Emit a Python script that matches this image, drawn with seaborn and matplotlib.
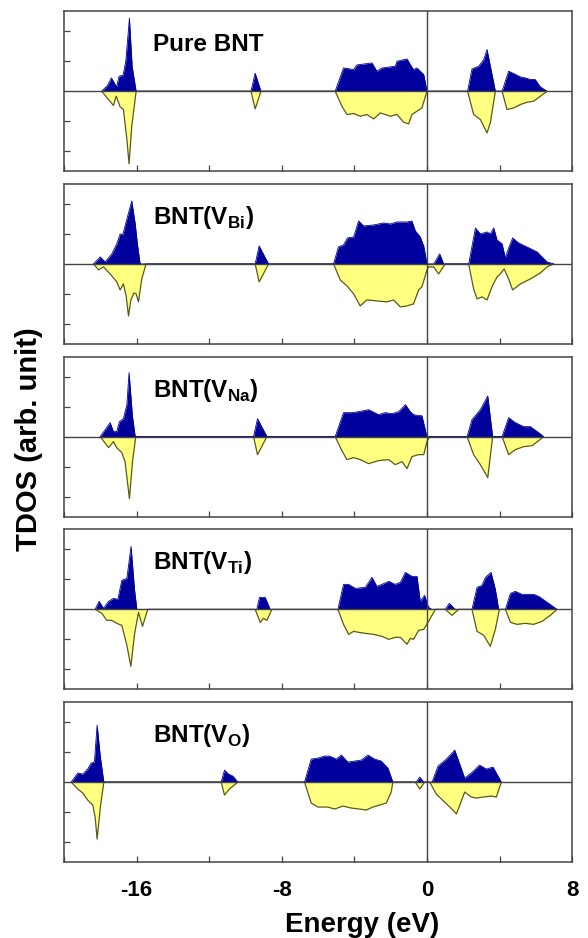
import matplotlib
matplotlib.use('Agg')
import matplotlib.pyplot as plt
import seaborn as sns
import numpy as np
from matplotlib.ticker import MultipleLocator

sns.set_theme(style='ticks')
plt.rcParams['font.family'] = ['Liberation Sans', 'DejaVu Sans']
plt.rcParams['mathtext.fontset'] = 'custom'
plt.rcParams['mathtext.rm'] = 'Liberation Sans'
plt.rcParams['mathtext.bf'] = 'Liberation Sans:bold'
plt.rcParams['text.color'] = 'black'
plt.rcParams['xtick.labelcolor'] = 'black'

labels = ['Pure BNT', r'BNT(V$_{\mathbf{Bi}}$)', r'BNT(V$_{\mathbf{Na}}$)',
          r'BNT(V$_{\mathbf{Ti}}$)', r'BNT(V$_{\mathbf{O}}$)']

# ---- Pure BNT ----
pure_e_up = [-17.93, -17.6, -17.39, -17.11, -16.97, -16.75, -16.6, -16.4, -16.25, -16.03,
             -9.7, -9.47, -9.15,
             -5.06, -4.6, -4.04, -3.86, -3.03, -2.76, -2.48, -1.75, -1.65, -1.1, -0.92,
             -0.74, -0.55, -0.37, -0.18, 0.0,
             2.24, 2.48, 2.85, 3.13, 3.31, 3.77,
             4.14, 4.5, 4.78, 5.15, 5.42, 5.7, 5.97, 6.25, 6.62]
pure_up = [0, 0.6, 1.33, 0.43, 1.5, 1.6, 3.0, 7.3, 2.5, 0,
           0, 1.8, 0,
           0, 2.33, 2.17, 2.63, 2.83, 2.0, 2.33, 2.5, 3.0, 3.23, 2.67,
           2.17, 2.33, 2.0, 1.67, 0,
           0, 2.23, 2.5, 3.17, 4.17, 0,
           0, 2.0, 1.77, 1.43, 1.33, 1.17, 1.17, 0.43, 0]
pure_e_dn = [-17.93, -17.55, -17.28, -17.13, -16.91, -16.73, -16.54, -16.42, -16.27, -16.03,
             -9.7, -9.47, -9.15,
             -5.06, -4.69, -4.41, -4.04, -3.68, -3.31, -2.94, -2.57, -2.02, -1.65, -1.29,
             -1.01, -0.83, -0.55, -0.28, 0.0,
             2.24, 2.57, 2.94, 3.31, 3.49, 3.77,
             4.14, 4.41, 4.78, 5.15, 5.51, 5.88, 6.25, 6.62]
pure_dn = [0, -0.83, -1.43, -0.5, -1.57, -1.83, -4.8, -7.27, -3.5, 0,
           0, -1.77, 0,
           0, -1.5, -2.33, -2.23, -2.5, -2.33, -2.77, -2.17, -2.5, -2.33, -3.1,
           -3.27, -2.33, -2.0, -1.67, 0,
           0, -2.33, -2.83, -4.17, -3.17, 0,
           0, -1.83, -1.67, -1.33, -1.1, -1.0, -0.5, 0]

# ---- BNT(V_Bi) ----
vbi_e_up = [-18.38, -18.01, -17.74, -17.37, -17.1, -16.91, -16.77, -16.54, -16.27, -16.08,
            -15.96, -15.81,
            -9.47, -9.25, -8.73,
            -5.15, -4.88, -4.6, -4.38, -4.04, -3.77, -3.49, -2.94, -2.39, -2.02, -1.65,
            -1.1, -0.83, -0.64, -0.37, -0.18, 0.0,
            0.37, 0.7, 0.92,
            2.3, 2.67, 2.94, 3.31, 3.49, 3.68, 3.86, 4.14, 4.32, 4.5, 4.72, 5.05, 5.51,
            6.07, 6.62, 6.99]
vbi_up = [0, 0.7, 0.2, 1.0, 2.0, 3.0, 2.9, 4.5, 6.3, 4.0,
          2.0, 0,
          0, 1.8, 0,
          0, 1.7, 1.9, 2.6, 2.7, 4.3, 3.8, 3.9, 4.1, 4.0, 4.2,
          4.2, 4.3, 3.3, 2.7, 1.8, 0,
          0, 1.0, 0,
          0, 3.6, 3.0, 3.2, 3.0, 3.6, 2.4, 2.0, 0.6, 1.6, 2.6, 2.1, 1.7,
          1.2, 0.2, 0]
vbi_e_dn = [-18.38, -18.1, -17.83, -17.46, -17.1, -16.91, -16.73, -16.58, -16.45, -16.32,
            -16.14, -16.03, -15.9, -15.72, -15.48,
            -9.47, -9.25, -8.73,
            -5.15, -4.78, -4.41, -4.04, -3.68, -3.31, -2.76, -2.21, -1.84, -1.47, -1.1,
            -0.74, -0.46, -0.28, 0.0, 0.09, 0.37, 0.64, 1.01,
            2.3, 2.57, 2.76, 3.04, 3.31, 3.58, 3.86, 4.04, 4.25, 4.5, 4.72, 5.15, 5.7,
            6.25, 6.62, 6.99]
vbi_dn = [0, -0.6, -0.3, -1.0, -1.8, -2.6, -2.0, -3.2, -5.2, -3.6,
          -2.9, -3.0, -3.8, -1.5, 0,
          0, -1.8, 0,
          0, -1.6, -2.2, -3.0, -4.2, -3.6, -3.7, -3.8, -3.6, -4.3, -4.2,
          -4.0, -2.6, -2.3, -0.6, -0.3, -0.3, -1.0, 0,
          0, -2.5, -3.5, -3.3, -3.6, -2.3, -1.3, -1.0, -0.5, -1.5, -2.6, -2.0, -1.5,
          -0.9, -0.3, 0]

# ---- BNT(V_Na) ----
vna_e_up = [-18.01, -17.46, -17.28, -17.1, -16.95, -16.73, -16.54, -16.42, -16.23, -16.08,
            -9.56, -9.34, -8.82,
            -5.06, -4.6, -4.14, -3.77, -3.22, -2.67, -2.3, -1.93, -1.56, -1.19, -0.92,
            -0.74, -0.46, -0.28, 0.0,
            2.21, 2.48, 2.94, 3.35, 3.62,
            4.14, 4.5, 4.87, 5.33, 5.7, 6.16, 6.43]
vna_up = [0, 1.4, 0.5, 0.5, 1.5, 1.8, 3.2, 6.4, 2.0, 0,
          0, 1.8, 0,
          0, 2.4, 2.4, 2.5, 2.7, 2.2, 2.4, 2.3, 2.5, 3.2, 2.5,
          2.2, 2.1, 2.1, 0,
          0, 1.7, 2.7, 4.07, 0,
          0, 1.9, 1.4, 1.0, 1.0, 0.4, 0]
vna_e_dn = [-18.01, -17.55, -17.28, -17.1, -16.82, -16.64, -16.49, -16.4, -16.23, -16.05,
            -9.56, -9.34, -8.82,
            -5.06, -4.69, -4.41, -4.04, -3.68, -3.22, -2.67, -2.11, -1.75, -1.38, -1.1,
            -0.83, -0.46, -0.18, 0.0, 0.13,
            2.21, 2.57, 2.94, 3.35, 3.62,
            4.14, 4.5, 4.87, 5.33, 5.79, 6.16, 6.43]
vna_dn = [0, -1.1, -0.5, -1.1, -1.6, -2.5, -4.8, -6.2, -2.5, 0,
          0, -1.8, 0,
          0, -1.4, -2.3, -2.1, -2.3, -2.7, -2.4, -2.3, -2.8, -2.5, -3.2,
          -2.0, -1.8, -1.8, -0.5, 0,
          0, -1.8, -2.8, -4.1, 0,
          0, -1.8, -1.3, -1.0, -0.9, -0.4, 0]

# ---- BNT(V_Ti) ----
vti_e_up = [-18.29, -18.07, -17.83, -17.55, -17.28, -17.04, -16.82, -16.54, -16.31, -16.12,
            -15.99,
            -9.38, -9.23, -8.92, -8.64,
            -4.91, -4.6, -4.32, -3.95, -3.4, -3.03, -2.76, -2.48, -2.11, -1.75, -1.47,
            -1.19, -0.83, -0.55, -0.37, -0.13, 0.09, 0.28,
            1.01, 1.23, 1.56,
            2.48, 2.76, 3.03, 3.22, 3.53, 3.77, 3.95,
            4.32, 4.6, 4.87, 5.24, 5.61, 5.88, 6.16, 6.71, 7.17]
vti_up = [0, 0.8, 0.1, 0.8, 1.1, 1.0, 2.9, 3.1, 6.3, 2.0,
          0,
          0, 1.2, 1.2, 0,
          0, 2.5, 2.5, 2.1, 2.2, 3.2, 2.3, 2.5, 2.8, 2.5, 2.7,
          3.7, 3.3, 3.3, 0.8, 1.4, 0.2, 0,
          0, 0.6, 0,
          0, 2.2, 2.4, 3.2, 3.7, 2.0, 0,
          0, 1.6, 1.8, 1.5, 1.5, 1.5, 1.3, 0.6, 0]
vti_e_dn = [-18.29, -17.92, -17.65, -17.37, -17.1, -16.82, -16.54, -16.32, -16.12, -15.9,
            -15.68, -15.39,
            -9.47, -9.19, -9.01, -8.82, -8.55,
            -4.91, -4.6, -4.32, -4.04, -3.77, -3.4, -2.94, -2.48, -2.11, -1.75, -1.47,
            -1.1, -0.92, -0.74, -0.46, -0.18, 0.09, 0.46,
            1.01, 1.38, 1.75,
            2.48, 2.76, 3.13, 3.49, 3.77, 3.99,
            4.32, 4.6, 4.96, 5.42, 5.88, 6.34, 6.8, 7.17]
vti_dn = [0, -0.4, -1.1, -1.1, -1.4, -1.6, -3.6, -5.7, -2.5, -0.3,
          -1.7, 0,
          0, -1.3, -0.9, -1.1, 0,
          0, -1.5, -2.5, -2.2, -2.3, -2.4, -2.5, -2.7, -3.0, -2.8, -2.8,
          -3.5, -2.9, -3.0, -2.1, -2.0, -1.2, 0,
          0, -0.6, 0,
          0, -2.2, -2.6, -3.7, -2.0, 0,
          0, -1.3, -1.5, -1.4, -1.5, -1.2, -0.6, 0]

# ---- BNT(V_O) ----
vo_e_up = [-19.61, -19.25, -18.97, -18.7, -18.51, -18.33, -18.18, -18.0, -17.81,
           -11.34, -11.16, -10.94, -10.7, -10.42,
           -6.75, -6.38, -6.01, -5.64, -5.37, -5.0, -4.72, -4.36, -3.99, -3.62, -3.25,
           -2.89, -2.52, -2.15, -1.88,
           -0.59, -0.4, -0.18,
           0.28, 0.61, 1.07, 1.53, 2.08, 2.44, 2.9, 3.27, 3.64, 4.1]
vo_up = [0, 0.9, 0.8, 1.3, 1.9, 2.0, 5.7, 2.5, 0,
         0, 1.2, 0.8, 0.6, 0,
         0, 2.3, 2.4, 2.6, 2.6, 2.3, 2.7, 2.0, 2.1, 2.2, 2.7,
         2.3, 2.1, 1.4, 0,
         0, 0.5, 0,
         0, 1.6, 2.3, 3.2, 0.4, 0.9, 1.7, 1.3, 1.5, 0]
vo_e_dn = [-19.61, -19.25, -18.97, -18.7, -18.42, -18.29, -18.18, -18.0, -17.81,
           -11.34, -11.16, -10.89, -10.42,
           -6.75, -6.38, -6.01, -5.46, -5.09, -4.63, -4.17, -3.71, -3.35, -2.98, -2.61,
           -2.24, -1.97, -1.88,
           -0.64, -0.4, -0.13,
           0.15, 0.51, 0.97, 1.43, 1.62, 2.08, 2.44, 2.72, 3.09, 3.55, 3.82, 4.1]
vo_dn = [0, -0.7, -1.1, -1.8, -2.3, -3.5, -5.7, -2.5, 0,
         0, -1.3, -0.7, 0,
         0, -2.1, -2.5, -2.5, -2.7, -2.4, -2.6, -2.7, -2.8, -2.5, -2.3,
         -2.1, -1.0, 0,
         0, -0.7, 0,
         0, -1.2, -2.0, -2.8, -3.2, -1.0, -1.5, -1.6, -1.5, -1.4, -1.5, 0]

panels = [(pure_e_up, pure_up, pure_e_dn, pure_dn),
          (vbi_e_up, vbi_up, vbi_e_dn, vbi_dn),
          (vna_e_up, vna_up, vna_e_dn, vna_dn),
          (vti_e_up, vti_up, vti_e_dn, vti_dn),
          (vo_e_up, vo_up, vo_e_dn, vo_dn)]

blue = '#00009c'
yellow = '#ffff80'
edge = '#5a5a1e'
axcol = '#444444'

fig, axes = plt.subplots(5, 1, sharex=True, figsize=(5.88, 9.38), dpi=100)
fig.subplots_adjust(left=0.109, right=0.973, top=0.988, bottom=0.081, hspace=0.08)

for ax, (eu, du, ed, dd), lab in zip(axes, panels, labels):
    eu, du, ed, dd = map(np.asarray, (eu, du, ed, dd))
    ax.fill_between(eu, 0, du, color=blue, lw=0)
    ax.fill_between(ed, 0, dd, color=yellow, lw=0)
    sns.lineplot(x=ed, y=dd, ax=ax, color=edge, lw=0.9, sort=False, estimator=None)
    sns.lineplot(x=eu, y=du, ax=ax, color=blue, lw=0.6, sort=False, estimator=None)
    ax.axhline(0, color=axcol, lw=1.0, zorder=3)
    ax.axvline(0, color=axcol, lw=1.0, zorder=3)
    ax.set_xlim(-20, 8)
    ax.set_ylim(-8, 8)
    ax.set_yticks([-6, -3, 3, 6])
    ax.set_yticklabels([])
    ax.xaxis.set_major_locator(MultipleLocator(8))
    ax.xaxis.set_minor_locator(MultipleLocator(4))
    ax.tick_params(axis='both', which='both', direction='in', length=4.5,
                   width=0.9, color=axcol, top=False, right=False)
    for s in ax.spines.values():
        s.set_color(axcol)
        s.set_linewidth(1.1)
    ax.text(0.175, 0.79, lab, transform=ax.transAxes, fontsize=17.5,
            fontweight='bold', va='center', ha='left', color='black')
    ax.set_ylabel('')
    ax.set_xlabel('')

axes[-1].set_xticks([-16, -8, 0, 8])
axes[-1].set_xticklabels(['-16', '-8', '0', '8'], fontsize=16, fontweight='bold',
                         color='black')
axes[-1].tick_params(axis='x', which='major', pad=13)

fig.text(0.616, 0.006, 'Energy (eV)', ha='center', va='baseline',
         fontsize=20, fontweight='bold', color='black')
fig.text(0.049, 0.532, 'TDOS (arb. unit)', ha='center', va='center',
         rotation=90, fontsize=21, fontweight='bold', color='black')

fig.savefig('out.png', dpi=100)
